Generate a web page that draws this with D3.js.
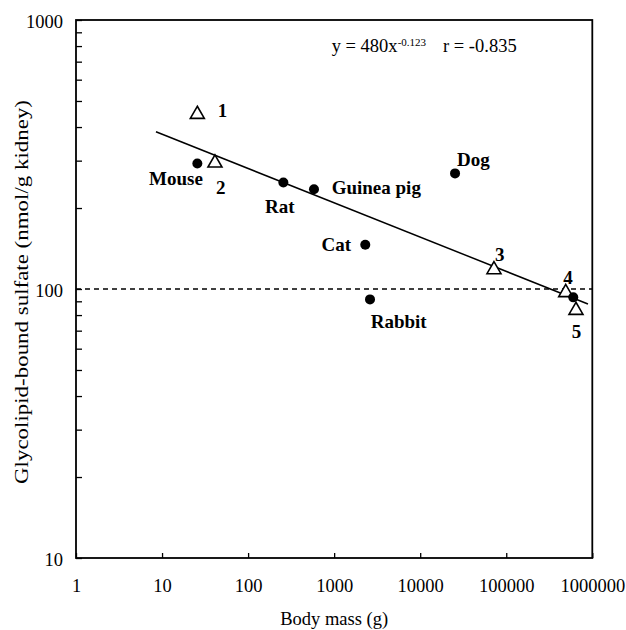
<!DOCTYPE html>
<html>
<head>
<meta charset="utf-8">
<script src="https://cdn.jsdelivr.net/npm/d3@7"></script>
<style>
    body { margin: 0; background: #fff; }
    svg { display: block; font-family: "Liberation Serif", "Times New Roman", serif; }
    .bold-label { font-weight: bold; font-size: 19px; }
</style>
</head>
<body>
<div id="chart"></div>
<script>
// species (filled circles)
var speciesNames = ['Mouse', 'Rat', 'Guinea pig', 'Cat', 'Rabbit', 'Dog', ''];
var speciesMass = [25.7, 257, 583, 2300, 2610, 25400, 601000];
var speciesSulfate = [293, 249, 235, 146, 91.5, 269, 93.1];

// numbered references (open triangles)
var refNames = ['1', '2', '3', '4', '5'];
var refMass = [25.7, 41.2, 72000, 491000, 646000];
var refSulfate = [446, 294, 118, 97, 83.3];

// regression line end points, as drawn
var fitMass = [8.5, 890000];
var fitSulfate = [384, 88];

var refLevel = 100;
var xTickValues = [1, 10, 100, 1000, 10000, 100000, 1000000];
var yTickValues = [10, 20, 30, 40, 50, 60, 70, 80, 90, 100, 200, 300, 400, 500, 600, 700, 800, 900, 1000];
var yLabelValues = [10, 100, 1000];

var width = 626, height = 630;
var margin = {top: 20, bottom: 72, left: 76, right: 33.7};

var svg = d3.select('#chart')
    .append('svg')
    .attr('width', width)
    .attr('height', height);

var x = d3.scaleLog()
    .domain([1, 1000000])
    .range([margin.left, width - margin.right]);

var y = d3.scaleLog()
    .domain([10, 1000])
    .range([height - margin.bottom, margin.top]);

// axes, ticks pointing inwards
var xAxis = d3.axisBottom(x)
    .tickValues(xTickValues)
    .tickSizeInner(-5)
    .tickSizeOuter(0)
    .tickPadding(21)
    .tickFormat(d3.format('d'));

var yAxis = d3.axisLeft(y)
    .tickValues(yTickValues)
    .tickSizeInner(-6)
    .tickSizeOuter(0)
    .tickPadding(13)
    .tickFormat(function (d) {
        return yLabelValues.indexOf(d) >= 0 ? d3.format('d')(d) : '';
    });

var xAxisContainer = svg.append('g')
    .attr('transform', 'translate(0 ' + y.range()[0] + ')')
    .call(xAxis);
var yAxisContainer = svg.append('g')
    .attr('transform', 'translate(' + x.range()[0] + ' 0)')
    .call(yAxis);

[xAxisContainer, yAxisContainer].forEach(function (g) {
    g.select('.domain').remove();
    g.selectAll('.tick line').attr('stroke', '#000').attr('stroke-width', 1.3);
    g.selectAll('.tick text')
        .attr('fill', '#000')
        .style('font-family', '"Liberation Serif", "Times New Roman", serif')
        .style('font-size', '18.5px');
});
yAxisContainer.selectAll('.tick text').attr('dy', '0.43em');

// frame
svg.append('rect')
    .attr('x', x.range()[0])
    .attr('y', y.range()[1])
    .attr('width', x.range()[1] - x.range()[0])
    .attr('height', y.range()[0] - y.range()[1])
    .attr('fill', 'none')
    .attr('stroke', '#000')
    .attr('stroke-width', 1.8);

// dashed reference level
svg.append('line')
    .attr('x1', x.range()[0])
    .attr('x2', x.range()[1])
    .attr('y1', y(refLevel))
    .attr('y2', y(refLevel))
    .attr('stroke', '#000')
    .attr('stroke-width', 1.4)
    .attr('stroke-dasharray', '5,4');

// regression line
var fitData = fitMass.map(function (m, i) { return {mass: m, sulfate: fitSulfate[i]}; });
svg.append('path')
    .datum(fitData)
    .attr('fill', 'none')
    .attr('stroke', '#000')
    .attr('stroke-width', 1.5)
    .attr('d', d3.line()
        .x(function (d) { return x(d.mass); })
        .y(function (d) { return y(d.sulfate); }));

// triangles
var refData = refNames.map(function (n, i) { return {name: n, mass: refMass[i], sulfate: refSulfate[i]}; });
svg.append('g').selectAll('path')
    .data(refData)
    .enter().append('path')
    .attr('d', d3.symbol().type(d3.symbolTriangle).size(85))
    .attr('transform', function (d) { return 'translate(' + x(d.mass) + ' ' + y(d.sulfate) + ')'; })
    .attr('fill', '#fff')
    .attr('stroke', '#000')
    .attr('stroke-width', 1.6);

// circles
var speciesData = speciesNames.map(function (n, i) { return {name: n, mass: speciesMass[i], sulfate: speciesSulfate[i]}; });
svg.append('g').selectAll('circle')
    .data(speciesData)
    .enter().append('circle')
    .attr('cx', function (d) { return x(d.mass); })
    .attr('cy', function (d) { return y(d.sulfate); })
    .attr('r', 5)
    .attr('fill', '#000');

// label offsets from the mark: [dx, dy, anchor]
var labelOffset = {
    'Mouse': [-48.3, 21.7, 'start'],
    'Rat': [-18.3, 30.7, 'start'],
    'Guinea pig': [17.7, 5.3, 'start'],
    'Cat': [-14.3, 6.7, 'end'],
    'Rabbit': [0.7, 29, 'start'],
    'Dog': [2, -7.6, 'start'],
    '1': [20.4, 2.8, 'start'],
    '2': [1, 31, 'start'],
    '3': [1, -8.6, 'start'],
    '4': [-2.4, -8.7, 'start'],
    '5': [-4.3, 28, 'start']
};

var labelled = speciesData.concat(refData).filter(function (d) { return d.name; });
svg.append('g').selectAll('text')
    .data(labelled)
    .enter().append('text')
    .attr('class', 'bold-label')
    .attr('x', function (d) { return x(d.mass) + labelOffset[d.name][0]; })
    .attr('y', function (d) { return y(d.sulfate) + labelOffset[d.name][1]; })
    .attr('text-anchor', function (d) { return labelOffset[d.name][2]; })
    .text(function (d) { return d.name; });

// equation
var eq = svg.append('text')
    .attr('x', 331.7)
    .attr('y', 52.3)
    .style('font-size', '18.5px');
eq.append('tspan').text('y = 480x');
eq.append('tspan').attr('dy', -6).style('font-size', '11px').text('-0.123');
eq.append('tspan').attr('x', 443).attr('y', 52.3).text('r = -0.835');

// axis titles
svg.append('text')
    .attr('x', (x.range()[0] + x.range()[1]) / 2)
    .attr('y', 625)
    .attr('text-anchor', 'middle')
    .style('font-size', '18.5px')
    .text('Body mass (g)');

// the y title is stretched along its length in the original
svg.append('text')
    .attr('transform', 'translate(28 292) rotate(-90)')
    .attr('text-anchor', 'middle')
    .attr('textLength', 384)
    .attr('lengthAdjust', 'spacingAndGlyphs')
    .style('font-size', '18.5px')
    .text('Glycolipid-bound sulfate (nmol/g kidney)');
</script>
</body>
</html>
